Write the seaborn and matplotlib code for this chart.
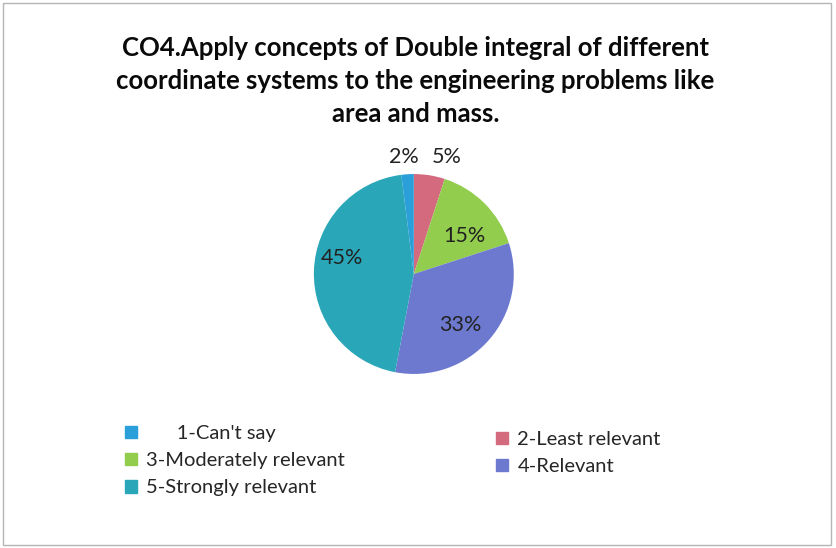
import matplotlib
matplotlib.use("Agg")
import matplotlib.pyplot as plt
import matplotlib.patches as mpatches
import numpy as np
import seaborn as sns

# Survey responses (percent)
categories = ["1-Can't say", "2-Least relevant", "3-Moderately relevant", "4-Relevant", "5-Strongly relevant"]
shares = [2, 5, 15, 33, 45]
sliceColors = ["#2b9fd9", "#d36a7d", "#92cd4e", "#6d79cf", "#2aa6b9"]
titleText = ("CO4.Apply concepts of Double integral of different\n"
             "coordinate systems to the engineering problems like\n"
             "area and mass.")

sns.set_theme(style="white")
plt.rcParams['font.family'] = ['Lato', 'DejaVu Sans']

fig = plt.figure(figsize=(8.36, 5.48), dpi=100)
fig.patch.set_facecolor("white")

# pie drawn in an axes centred on the reference pie
ax = fig.add_axes([0.495 - 0.1495, 0.50 - 0.228, 0.299, 0.456])

# order the wedges so that "1-Can't say" ends at 12 o'clock, the rest clockwise from the top
order = [1, 2, 3, 4, 0]
vals = [shares[i] for i in order]
cols = [sliceColors[i] for i in order]

wedges, texts, autotexts = ax.pie(
    vals, colors=cols, startangle=90, counterclock=False,
    autopct='%d%%', pctdistance=0.62,
    textprops=dict(fontsize=15.5, color="#222222"),
    wedgeprops=dict(linewidth=0),
)

# small slices get their labels outside, just above the rim
for w, t, v in zip(wedges, autotexts, vals):
    if v < 10:
        ang = np.deg2rad((w.theta1 + w.theta2) / 2)
        t.set_position((1.17 * np.cos(ang) * (1.8 if v == 5 else 1.3), 1.17))
        t.set_ha('center')
        t.set_va('center')
    elif v == 45:
        x, y = t.get_position()
        t.set_position((x - 0.1, y + 0.14))
    elif v == 33:
        x, y = t.get_position()
        t.set_position((x, y - 0.1))
    elif v == 15:
        x, y = t.get_position()
        t.set_position((x + 0.07, y - 0.06))

fig.text(0.497, 0.935, titleText, ha='center', va='top', fontsize=18.5,
         fontweight='bold', color="#0a0a0a", linespacing=1.45)

# legend: left column and right column like the original
leftIdx = [0, 2, 4]
rightIdx = [1, 3]
leftLabels = ["      " + categories[0], categories[2], categories[4]]
leftHandles = [mpatches.Patch(color=sliceColors[i]) for i in leftIdx]
rightHandles = [mpatches.Patch(color=sliceColors[i]) for i in rightIdx]

legKw = dict(frameon=False, fontsize=14.5, handlelength=0.6, handleheight=0.6,
             handletextpad=0.45, labelspacing=0.5, borderaxespad=0)
fig.legend(leftHandles, leftLabels, loc='upper left',
           bbox_to_anchor=(0.14, 0.239), **legKw)
fig.legend(rightHandles, [categories[i] for i in rightIdx], loc='upper left',
           bbox_to_anchor=(0.584, 0.228), **legKw)

# thin frame around the chart area
fig.patches.append(mpatches.Rectangle((0.004, 0.006), 0.99, 0.988, transform=fig.transFigure,
                                      fill=False, edgecolor="#b5b5b5", linewidth=1))

fig.savefig("out.png", dpi=100)
